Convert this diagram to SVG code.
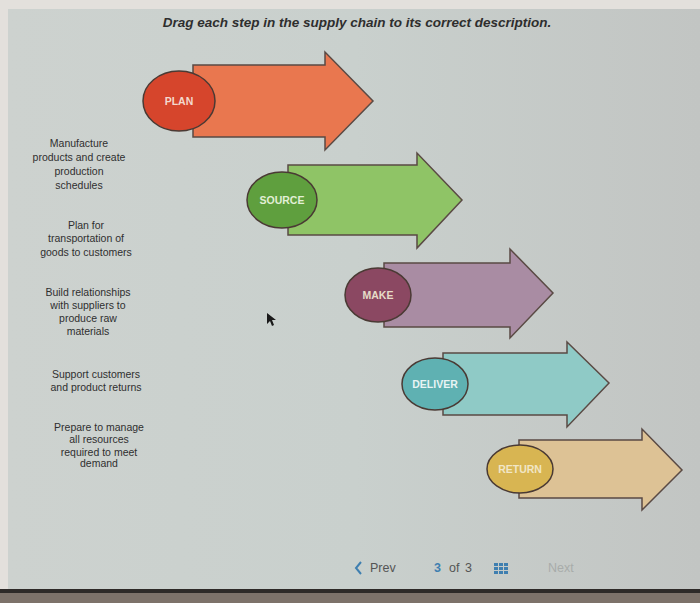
<svg xmlns="http://www.w3.org/2000/svg" width="700" height="603" viewBox="0 0 700 603">
<defs>
<style>
.title{font-family:"Liberation Sans",Arial,sans-serif;font-size:13.5px;font-style:italic;font-weight:bold;fill:#2e2e2e;}
.desc{font-family:"Liberation Sans",Arial,sans-serif;font-size:10.5px;fill:#2f2f2f;text-anchor:middle;}
.lbl{font-family:"Liberation Sans Narrow","Liberation Sans",Arial,sans-serif;font-size:10.5px;font-weight:bold;text-anchor:middle;dominant-baseline:central;}
.arrow{stroke:#5a4a44;stroke-width:1.5;stroke-linejoin:miter;}
.oval{stroke:#4a3a34;stroke-width:1.5;}
.nav{font-family:"Liberation Sans",Arial,sans-serif;font-size:12.5px;}
</style>
<linearGradient id="bg" x1="0" y1="0" x2="1" y2="0">
<stop offset="0" stop-color="#cdd2cf"/>
<stop offset="0.5" stop-color="#c9d0cd"/>
<stop offset="1" stop-color="#c2c5c3"/>
</linearGradient>
</defs>
<rect x="0" y="0" width="700" height="603" fill="#e3e0dc"/>
<rect x="8" y="9" width="692" height="581" fill="url(#bg)"/>
<rect x="0" y="589" width="700" height="4" fill="#2e2a28"/>
<rect x="0" y="593" width="700" height="10" fill="#7d726a"/>
<text class="title" x="357" y="27" text-anchor="middle">Drag each step in the supply chain to its correct description.</text>

<g id="descriptions">
<g id="desc-make">
<text class="desc" x="79" y="147">Manufacture</text>
<text class="desc" x="79" y="161">products and create</text>
<text class="desc" x="79" y="175">production</text>
<text class="desc" x="79" y="189">schedules</text>
</g>
<g id="desc-deliver">
<text class="desc" x="86" y="229">Plan for</text>
<text class="desc" x="86" y="242">transportation of</text>
<text class="desc" x="86" y="256">goods to customers</text>
</g>
<g id="desc-source">
<text class="desc" x="88" y="296">Build relationships</text>
<text class="desc" x="88" y="309">with suppliers to</text>
<text class="desc" x="88" y="322">produce raw</text>
<text class="desc" x="88" y="335">materials</text>
</g>
<g id="desc-return">
<text class="desc" x="96" y="378">Support customers</text>
<text class="desc" x="96" y="391">and product returns</text>
</g>
<g id="desc-plan">
<text class="desc" x="99" y="431">Prepare to manage</text>
<text class="desc" x="99" y="443">all resources</text>
<text class="desc" x="99" y="456">required to meet</text>
<text class="desc" x="99" y="467">demand</text>
</g>
</g>

<g id="connectors"></g>

<g id="plan">
<polygon class="arrow" fill="#e9774f" points="193,65 325,65 325,52 373,101 325,150 325,137 193,137"/>
<ellipse class="oval" cx="179" cy="101" rx="36" ry="30" fill="#d6452c"/>
<text class="lbl" x="179" y="101" fill="#f3d9cf">PLAN</text>
</g>
<g id="source">
<polygon class="arrow" fill="#8fc466" points="288,165 417,165 417,153 462,200 417,248 417,235 288,235"/>
<ellipse class="oval" cx="282" cy="200" rx="35" ry="28" fill="#5f9f3e"/>
<text class="lbl" x="282" y="200" fill="#e2efd6">SOURCE</text>
</g>
<g id="make">
<polygon class="arrow" fill="#a98ca3" points="384,263 510,263 510,249 553,293 510,338 510,327 384,327"/>
<ellipse class="oval" cx="378" cy="295" rx="33" ry="27" fill="#8b4862"/>
<text class="lbl" x="378" y="295" fill="#e6dcc8">MAKE</text>
</g>
<g id="deliver">
<polygon class="arrow" fill="#8fcac6" points="443,353 567,353 567,342 609,383 567,427 567,415 443,415"/>
<ellipse class="oval" cx="435" cy="384" rx="33" ry="26" fill="#5fb1b2"/>
<text class="lbl" x="435" y="384" fill="#e8f4f4">DELIVER</text>
</g>
<g id="return">
<polygon class="arrow" fill="#ddc295" points="519,440 642,440 642,429 682,470 642,510 642,498 519,498"/>
<ellipse class="oval" cx="520" cy="469" rx="33" ry="24" fill="#d8b552"/>
<text class="lbl" x="520" y="469" fill="#f1e6c6">RETURN</text>
</g>

<polygon points="267,313 267,324 270,321 272,326 274,325 272,320 276,320" fill="#1a1a1a"/>

<g id="nav">
<polyline points="361,562 356,568 361,574" fill="none" stroke="#3f7fb0" stroke-width="2"/>
<text class="nav" x="370" y="572" fill="#555">Prev</text>
<text class="nav" x="434" y="572" fill="#3f7fb0" font-weight="bold">3</text>
<text class="nav" x="449" y="572" fill="#555" font-size="11">of</text>
<text class="nav" x="465" y="572" fill="#555">3</text>
<g fill="#3f7fb0">
<rect x="494" y="563" width="4" height="3"/><rect x="499" y="563" width="4" height="3"/><rect x="504" y="563" width="4" height="3"/>
<rect x="494" y="567" width="4" height="3"/><rect x="499" y="567" width="4" height="3"/><rect x="504" y="567" width="4" height="3"/>
<rect x="494" y="571" width="4" height="3"/><rect x="499" y="571" width="4" height="3"/><rect x="504" y="571" width="4" height="3"/>
</g>
<text class="nav" x="548" y="572" fill="#a8acaa">Next</text>
</g>
</svg>
